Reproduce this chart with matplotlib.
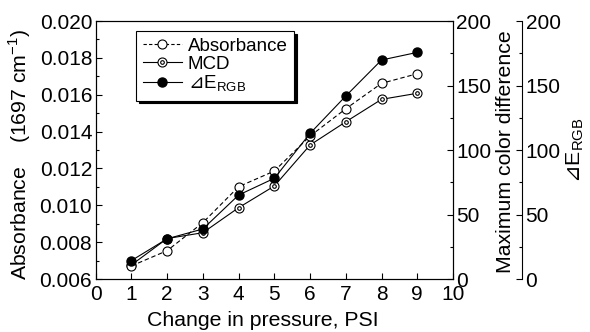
import matplotlib
matplotlib.use("Agg")
import matplotlib.pyplot as plt
from matplotlib.ticker import MultipleLocator, FormatStrFormatter
from matplotlib.legend_handler import HandlerTuple

# pressure steps and measured responses
pressure = [1, 2, 3, 4, 5, 6, 7, 8, 9]
absorbance = [0.00671, 0.00754, 0.00906, 0.01101, 0.01186, 0.01376, 0.01524, 0.01662, 0.01714]
mcd = [10.9, 31.4, 35.9, 55.3, 72.1, 103.9, 121.9, 139.3, 144.0]
delta_e = [14.3, 31.2, 38.8, 65.1, 78.1, 112.9, 141.9, 169.8, 175.7]

plt.rcParams['font.family'] = ['Liberation Sans', 'DejaVu Sans']
plt.rcParams['mathtext.fontset'] = 'custom'
plt.rcParams['mathtext.rm'] = 'Liberation Sans'
plt.rcParams['mathtext.sf'] = 'DejaVu Sans'
plt.rcParams['font.size'] = 15

DE_LABEL = r'$\mathsf{⊿}$E$_{\mathrm{RGB}}$'

fig = plt.figure(figsize=(5.9, 3.32), dpi=100)
ax = fig.add_axes([0.1622, 0.1596, 0.6056, 0.777])
ax2 = ax.twinx()
ax3 = ax.twinx()
ax3.spines['right'].set_position(('outward', 49.7))

lw = 0.8
ms = 6.5

# MCD: double circle marker
ax2.plot(pressure, mcd, '-', color='black', lw=lw, marker='o', ms=ms,
         mfc='white', mec='black', mew=0.8, zorder=2)
ax2.plot(pressure, mcd, 'o', ms=2.6, mfc='white', mec='black', mew=0.8, zorder=3)
ax2.set_ylim(0, 200)

# absorbance (left axis)
ax.plot(pressure, absorbance, '--', color='black', lw=lw, marker='o', ms=ms,
        mfc='white', mec='black', mew=0.8, dashes=(4, 2.5))
ax.set_xlim(0, 10)
ax.set_ylim(0.006, 0.020)

# colour difference
ax3.plot(pressure, delta_e, '-', color='black', lw=lw, marker='o', ms=ms,
         mfc='black', mec='black', zorder=4)
ax3.set_ylim(0, 200)

# absorbance above MCD, delta E on top
ax.set_zorder(ax2.get_zorder() + 1)
ax.patch.set_visible(False)
ax3.set_zorder(ax.get_zorder() + 1)
ax3.patch.set_visible(False)

ax.xaxis.set_major_locator(MultipleLocator(1))
ax.yaxis.set_major_locator(MultipleLocator(0.002))
ax.yaxis.set_minor_locator(MultipleLocator(0.001))
ax.yaxis.set_major_formatter(FormatStrFormatter('%.3f'))
for a in (ax2, ax3):
    a.yaxis.set_major_locator(MultipleLocator(50))
    a.yaxis.set_minor_locator(MultipleLocator(25))

ax.tick_params(axis='x', which='major', direction='in', length=4.3, width=0.8,
               pad=4, top=False)
ax.tick_params(axis='y', which='both', direction='in', width=0.8, pad=2.5,
               right=False)
ax.tick_params(axis='y', which='major', length=4)
ax.tick_params(axis='y', which='minor', length=2.5)
for a in (ax2, ax3):
    a.tick_params(axis='y', which='both', direction='in', width=0.8, pad=2.5)
    a.tick_params(axis='y', which='major', length=4)
    a.tick_params(axis='y', which='minor', length=2.5)

for a in (ax, ax2, ax3):
    for s in a.spines.values():
        s.set_linewidth(0.8)
ax3.spines['left'].set_visible(False)
ax3.spines['top'].set_visible(False)
ax3.spines['bottom'].set_visible(False)

# axis titles
fig.text(263 / 590, 1 - 320 / 332, 'Change in pressure, PSI', fontsize=15.3,
         ha='center', va='center')
fig.text(20 / 590, 1 - 154 / 332, 'Absorbance    (1697 cm$^{-1}$)', fontsize=15.3,
         rotation=90, ha='center', va='center')
fig.text(505 / 590, 1 - 152 / 332, 'Maximum color difference', fontsize=15.3,
         rotation=90, ha='center', va='center')
fig.text(575 / 590, 1 - 150 / 332, DE_LABEL, fontsize=15.3,
         rotation=90, ha='center', va='center')

# legend with combined marker for MCD
h_abs, = ax.plot([], [], '--', color='black', lw=lw, marker='o', ms=ms,
                 mfc='white', mec='black', mew=0.8, dashes=(3, 2))
h_mcd_outer, = ax.plot([], [], '-', color='black', lw=lw, marker='o', ms=ms,
                       mfc='white', mec='black', mew=0.8)
h_mcd_inner, = ax.plot([], [], 'o', ms=2.6, mfc='white', mec='black', mew=0.8)
h_de, = ax.plot([], [], '-', color='black', lw=lw, marker='o', ms=ms,
                mfc='black', mec='black')
leg = ax3.legend([h_abs, (h_mcd_outer, h_mcd_inner), h_de],
                 ['Absorbance', 'MCD', DE_LABEL],
                 handler_map={tuple: HandlerTuple(ndivide=1)},
                 loc='upper left', bbox_to_anchor=(0.113, 0.961),
                 borderaxespad=0, fontsize=13.5, frameon=True, fancybox=False,
                 shadow={'color': 'black', 'alpha': 1},
                 handlelength=2.1, handletextpad=0.3, labelspacing=0.05,
                 borderpad=0.35)
leg.get_frame().set_edgecolor('black')
leg.get_frame().set_linewidth(0.8)
leg.get_frame().set_alpha(1)

fig.savefig('out.png', dpi=100)
